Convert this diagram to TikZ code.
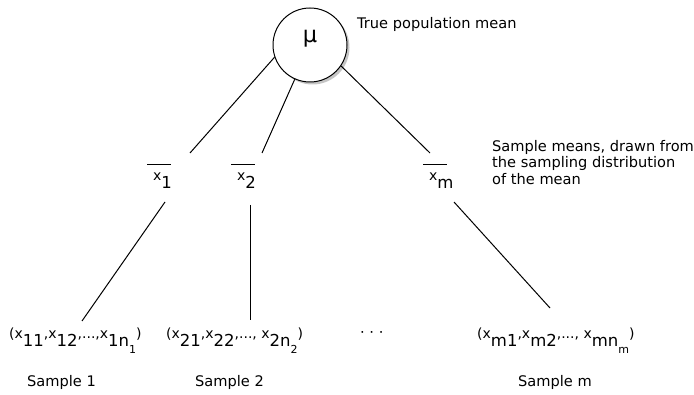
\documentclass[tikz,border=0pt]{standalone}
\usepackage{fontspec}
\setmainfont{DejaVu Sans}
\usetikzlibrary{shadows}

% lowered subscripts, a bit larger than the x
\newcommand{\lo}[1]{\raisebox{-8pt}{\fontsize{16.5}{18}\selectfont #1}}
\newcommand{\lolo}[1]{\raisebox{-6.5pt}{\fontsize{11}{12}\selectfont #1}}
\newcommand{\meanx}[1]{\vbox{\hrule width 24pt height 1pt\vskip 8pt\hbox{\hspace{6pt}x\lo{#1}}}}

\begin{document}
\begin{tikzpicture}[
  x=1pt, y=-1pt,
  txt/.style={inner sep=0pt, font=\fontsize{14.6}{16.6}\selectfont, anchor=base west},
  tup/.style={txt, font=\fontsize{14}{16}\selectfont},
  popmean/.style={circle, draw, line width=1pt, fill=white, minimum size=74pt, inner sep=0pt,
    font=\fontsize{22.5}{24}\selectfont, text height=0pt, text depth=5.4pt,
    drop shadow={shadow xshift=2.5pt, shadow yshift=-2.5pt, fill=black!45, opacity=.5}},
  link/.style={line width=1pt}
]
\useasboundingbox (0,0) rectangle (694,395);

\node[popmean] (mu) at (310,45) {μ};
\node[txt] (poplbl) at (357,29) {True population mean};

\node[tup] (xb1) at (147,181) {\meanx{1}};
\node[tup] (xb2) at (231,181) {\meanx{2}};
\node[tup] (xbm) at (423,181) {\meanx{m}};
\node[txt, anchor=north west, align=left] (meanlbl) at (492,140) {Sample means, drawn from\\the sampling distribution\\of the mean};

\node[tup] (s1) at (9,339) {(x\lo{11},x\lo{12},...,x\lo{1n\lolo{1}})};
\node[tup] (s2) at (166,339) {(x\lo{21},x\lo{22},..., x\lo{2n\lolo{2}})};
\node[txt] (gap) at (360,338) {· · ·};
\node[tup] (sm) at (477,339) {(x\lo{m1},x\lo{m2},..., x\lo{mn\lolo{m}})};

\node[txt] (lab1) at (27,387) {Sample 1};
\node[txt] (lab2) at (195,387) {Sample 2};
\node[txt] (labm) at (518,387) {Sample m};

% line ends
\coordinate (top1) at (190,153);
\coordinate (top2) at (262,153);
\coordinate (topm) at (430,153);
\coordinate (bot1) at (165,202);
\coordinate (bot2) at (250,205);
\coordinate (botm) at (454,202);
\coordinate (end1) at (82,321);
\coordinate (end2) at (250,320);
\coordinate (endm) at (550,308);

\draw[link] (mu.199) -- (top1);
\draw[link] (mu.246) -- (top2);
\draw[link] (mu.326) -- (topm);
\draw[link] (bot1) -- (end1);
\draw[link] (bot2) -- (end2);
\draw[link] (botm) -- (endm);
\end{tikzpicture}
\end{document}
